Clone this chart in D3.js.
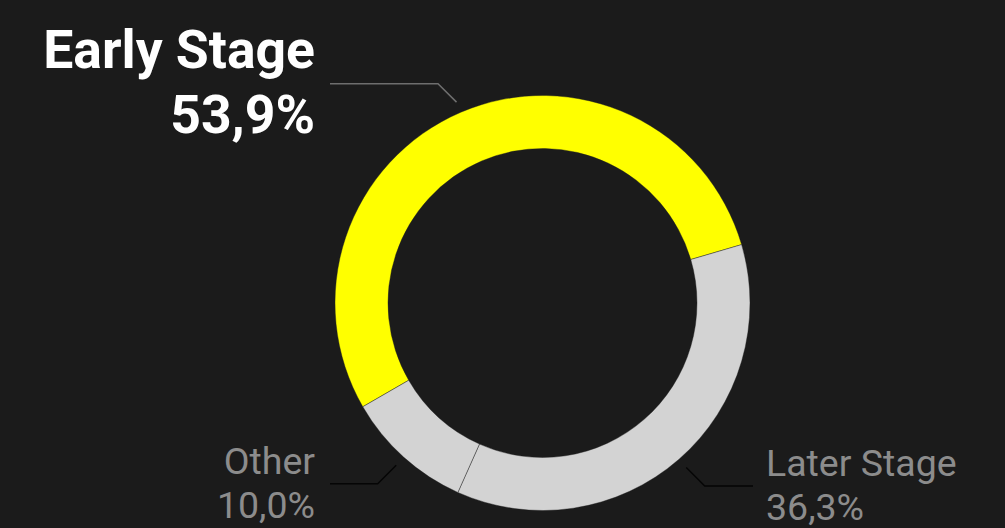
<!DOCTYPE html>
<html>
<head>
<meta charset="utf-8">
<script src="https://cdn.jsdelivr.net/npm/d3@7"></script>
<style>
  html, body { margin: 0; padding: 0; background: #1b1b1b; }
  svg { display: block; }
  text { font-family: Roboto, "Noto Sans", sans-serif; }
</style>
</head>
<body>
<svg id="chart" width="1005" height="528"></svg>
<script>
// Stage split of deals (share, %)
const categories = ["Early Stage", "Later Stage", "Other"];
const shares = [53.9, 36.3, 10.0];
const highlighted = "Early Stage";

const width = 1005, height = 528;
const cx = 542.5, cy = 303;
const outerR = 207.5, innerR = 154.5;

const colors = d3.scaleOrdinal()
  .domain(categories)
  .range(["#ffff00", "#d3d3d3", "#d3d3d3"]);

const locale = d3.formatLocale({ decimal: ",", thousands: ".", grouping: [3], currency: ["", " €"] });
const fmt = locale.format(".1f");

const data = categories.map((c, i) => ({ name: c, value: shares[i] }));

const pie = d3.pie()
  .sort(null)
  .value(d => d.value)
  .startAngle(-120 * Math.PI / 180)
  .endAngle(240 * Math.PI / 180);

const arc = d3.arc().innerRadius(innerR).outerRadius(outerR);
const arcs = pie(data);

const svg = d3.select("#chart");
const g = svg.append("g").attr("transform", `translate(${cx},${cy})`);

g.selectAll("path.slice")
  .data(arcs)
  .join("path")
  .attr("class", "slice")
  .attr("d", arc)
  .attr("fill", d => colors(d.data.name))
  .attr("stroke", "#1b1b1b")
  .attr("stroke-width", 0.4);

// leader lines: start just outside the ring, run out at 45° to an elbow, then horizontal
const startR = outerR + 11, elbowStep = 18.5;
const leftEnd = 330 - cx, rightEnd = 753 - cx;

const labelInfo = arcs.map(d => {
  const a = (d.startAngle + d.endAngle) / 2;
  const sx = Math.sin(a) * startR, sy = -Math.cos(a) * startR;
  const ex = sx + Math.sign(sx) * elbowStep, ey = sy + Math.sign(sy) * elbowStep;
  const right = sx > 0;
  return { d, sx, sy, ex, ey, right, endX: right ? rightEnd : leftEnd };
});

g.selectAll("polyline.leader")
  .data(labelInfo)
  .join("polyline")
  .attr("class", "leader")
  .attr("points", l => [[l.sx, l.sy], [l.ex, l.ey], [l.endX, l.ey]].map(p => p.join(",")).join(" "))
  .attr("fill", "none")
  .attr("stroke", l => l.d.data.name === highlighted ? "#6e6e6e" : "#050505")
  .attr("stroke-width", 1.5);

const labels = g.selectAll("text.label")
  .data(labelInfo)
  .join("text")
  .attr("class", "label")
  .attr("text-anchor", l => l.right ? "start" : "end")
  .attr("fill", l => l.d.data.name === highlighted ? "#ffffff" : "#8c8c8c")
  .attr("font-weight", l => l.d.data.name === highlighted ? 700 : 400)
  .attr("font-size", l => l.d.data.name === highlighted ? 53.5 : 37.5);

labels.each(function(l) {
  const big = l.d.data.name === highlighted;
  const x = l.right ? l.endX + 13 : l.endX - 15;
  const t = d3.select(this);
  t.append("tspan")
    .attr("x", x)
    .attr("y", l.ey + (big ? -16 : -10))
    .text(l.d.data.name);
  t.append("tspan")
    .attr("x", x)
    .attr("y", l.ey + (big ? 49 : 34))
    .text(fmt(l.d.data.value) + "%");
});
</script>
</body>
</html>
